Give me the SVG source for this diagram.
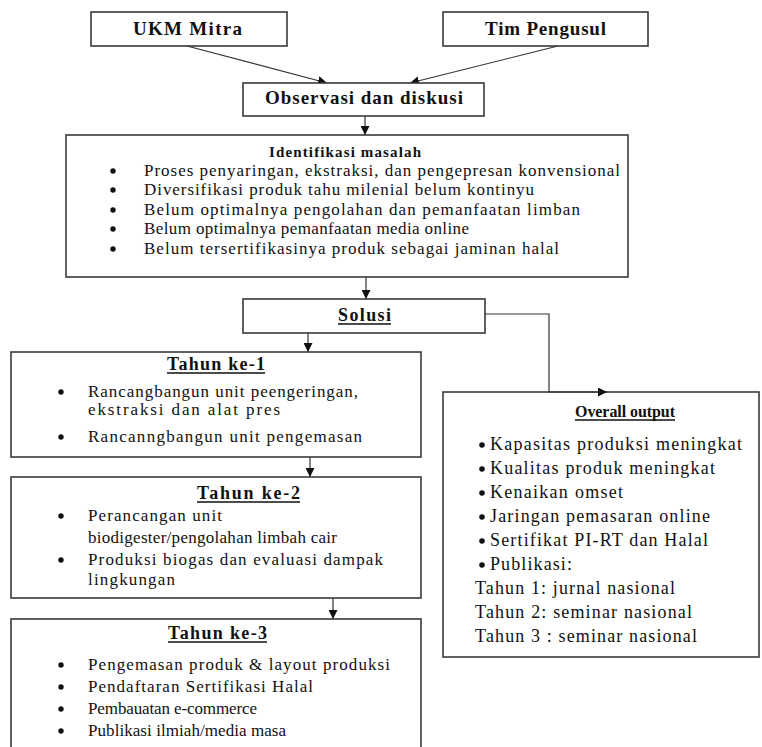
<svg xmlns="http://www.w3.org/2000/svg" width="762" height="747" viewBox="0 0 762 747">
<style>
.box{fill:#fff;stroke:#3a3a3a;stroke-width:1.6}
text{font-family:"Liberation Serif","Times New Roman",serif;fill:#111}
.s17{font-size:17px}
.s18{font-size:18px}
.hb{font-weight:bold}
.ul{stroke:#111;stroke-width:1.3}
.c{fill:none;stroke:#333;stroke-width:1.2}
.dot{fill:#111}
</style>
<defs>
<marker id="ah" viewBox="0 0 10 10" refX="10" refY="5" markerWidth="9" markerHeight="9" orient="auto" markerUnits="userSpaceOnUse"><path d="M0,0 L10,5 L0,10 z" fill="#111"/></marker>
</defs>

<g id="connectors">
<line class="c" x1="187" y1="46" x2="327" y2="83" marker-end="url(#ah)"/>
<line class="c" x1="558" y1="46" x2="410" y2="83" marker-end="url(#ah)"/>
<line class="c" x1="365" y1="116" x2="365" y2="135" marker-end="url(#ah)"/>
<line class="c" x1="366" y1="277" x2="366" y2="299" marker-end="url(#ah)"/>
<line class="c" x1="308" y1="333" x2="308" y2="352" marker-end="url(#ah)"/>
<line class="c" x1="310" y1="457" x2="310" y2="477" marker-end="url(#ah)"/>
<line class="c" x1="333" y1="598" x2="333" y2="619" marker-end="url(#ah)"/>
</g>

<g id="ukm-mitra">
<rect class="box" x="91" y="12" width="196" height="34"/>
<text class="hb" x="133" y="35" style="font-size:19px" textLength="109" lengthAdjust="spacing">UKM Mitra</text>
</g>

<g id="tim-pengusul">
<rect class="box" x="443" y="12" width="205" height="34"/>
<text class="hb" x="485" y="35" style="font-size:19px" textLength="121" lengthAdjust="spacing">Tim Pengusul</text>
</g>

<g id="observasi">
<rect class="box" x="243" y="83" width="241" height="33"/>
<text class="hb" x="265" y="104" style="font-size:19px" textLength="198" lengthAdjust="spacing">Observasi dan diskusi</text>
</g>

<g id="identifikasi">
<rect class="box" x="66" y="135" width="562" height="142"/>
<text class="hb" x="269" y="157" style="font-size:15px" textLength="152" lengthAdjust="spacing">Identifikasi masalah</text>
<circle class="dot" cx="113" cy="171" r="2.7"/>
<circle class="dot" cx="113" cy="190" r="2.7"/>
<circle class="dot" cx="113" cy="210" r="2.7"/>
<circle class="dot" cx="113" cy="229" r="2.7"/>
<circle class="dot" cx="113" cy="249" r="2.7"/>
<text class="s17" x="144" y="176" textLength="476" lengthAdjust="spacing">Proses penyaringan, ekstraksi, dan pengepresan konvensional</text>
<text class="s17" x="144" y="195" textLength="390" lengthAdjust="spacing">Diversifikasi produk tahu milenial belum kontinyu</text>
<text class="s17" x="144" y="215" textLength="436" lengthAdjust="spacing">Belum optimalnya pengolahan dan pemanfaatan limban</text>
<text class="s17" x="144" y="234" textLength="325" lengthAdjust="spacing">Belum optimalnya pemanfaatan media online</text>
<text class="s17" x="144" y="254" textLength="415" lengthAdjust="spacing">Belum tersertifikasinya produk sebagai jaminan halal</text>
</g>

<g id="solusi">
<rect class="box" x="243" y="299" width="242" height="34"/>
<text class="hb s18" x="338" y="321" textLength="53" lengthAdjust="spacing">Solusi</text>
<line class="ul" x1="338" y1="324" x2="391" y2="324"/>
</g>

<g id="tahun-1">
<rect class="box" x="11" y="352" width="410" height="105"/>
<text class="hb s18" x="167" y="370" textLength="98" lengthAdjust="spacing">Tahun ke-1</text>
<line class="ul" x1="167" y1="373" x2="265" y2="373"/>
<circle class="dot" cx="61" cy="392" r="2.7"/>
<circle class="dot" cx="61" cy="437" r="2.7"/>
<text class="s17" x="88" y="397" textLength="270" lengthAdjust="spacing">Rancangbangun unit peengeringan,</text>
<text class="s17" x="88" y="415" textLength="192" lengthAdjust="spacing">ekstraksi dan alat pres</text>
<text class="s17" x="88" y="442" textLength="274" lengthAdjust="spacing">Rancanngbangun unit pengemasan</text>
</g>

<g id="tahun-2">
<rect class="box" x="11" y="477" width="410" height="121"/>
<text class="hb s18" x="197" y="499" textLength="103" lengthAdjust="spacing">Tahun ke-2</text>
<line class="ul" x1="197" y1="502" x2="300" y2="502"/>
<circle class="dot" cx="61" cy="516" r="2.7"/>
<circle class="dot" cx="61" cy="560" r="2.7"/>
<text class="s17" x="88" y="521" textLength="134" lengthAdjust="spacing">Perancangan unit</text>
<text class="s17" x="88" y="543" textLength="249" lengthAdjust="spacing">biodigester/pengolahan limbah cair</text>
<text class="s17" x="88" y="565" textLength="295" lengthAdjust="spacing">Produksi biogas dan evaluasi dampak</text>
<text class="s17" x="88" y="585" textLength="87" lengthAdjust="spacing">lingkungan</text>
</g>

<g id="tahun-3">
<rect class="box" x="11" y="619" width="410" height="140"/>
<text class="hb s18" x="168" y="639" textLength="99" lengthAdjust="spacing">Tahun ke-3</text>
<line class="ul" x1="168" y1="642" x2="267" y2="642"/>
<circle class="dot" cx="61" cy="665" r="2.7"/>
<circle class="dot" cx="61" cy="687" r="2.7"/>
<circle class="dot" cx="61" cy="709" r="2.7"/>
<circle class="dot" cx="61" cy="731" r="2.7"/>
<text class="s17" x="88" y="670" textLength="302" lengthAdjust="spacing">Pengemasan produk &amp; layout produksi</text>
<text class="s17" x="88" y="692" textLength="225" lengthAdjust="spacing">Pendaftaran Sertifikasi Halal</text>
<text class="s17" x="88" y="714" textLength="169" lengthAdjust="spacing">Pembauatan e-commerce</text>
<text class="s17" x="88" y="736" textLength="198" lengthAdjust="spacing">Publikasi ilmiah/media masa</text>
</g>

<g id="overall-output">
<rect class="box" x="443" y="392" width="316" height="265"/>
<text class="hb" x="575" y="417" style="font-size:16px" textLength="100" lengthAdjust="spacing">Overall output</text>
<line class="ul" x1="575" y1="420" x2="675" y2="420"/>
<circle class="dot" cx="482" cy="445" r="2.8"/>
<circle class="dot" cx="482" cy="469" r="2.8"/>
<circle class="dot" cx="482" cy="493" r="2.8"/>
<circle class="dot" cx="482" cy="517" r="2.8"/>
<circle class="dot" cx="482" cy="541" r="2.8"/>
<circle class="dot" cx="482" cy="565" r="2.8"/>
<text class="s18" x="490" y="450" textLength="252" lengthAdjust="spacing">Kapasitas produksi meningkat</text>
<text class="s18" x="490" y="474" textLength="225" lengthAdjust="spacing">Kualitas produk meningkat</text>
<text class="s18" x="490" y="498" textLength="133" lengthAdjust="spacing">Kenaikan omset</text>
<text class="s18" x="490" y="522" textLength="220" lengthAdjust="spacing">Jaringan pemasaran online</text>
<text class="s18" x="490" y="546" textLength="218" lengthAdjust="spacing">Sertifikat PI-RT dan Halal</text>
<text class="s18" x="490" y="570" textLength="82" lengthAdjust="spacing">Publikasi:</text>
<text class="s18" x="475" y="594" textLength="200" lengthAdjust="spacing">Tahun 1: jurnal nasional</text>
<text class="s18" x="475" y="618" textLength="217" lengthAdjust="spacing">Tahun 2: seminar nasional</text>
<text class="s18" x="475" y="642" textLength="222" lengthAdjust="spacing">Tahun 3 : seminar nasional</text>
</g>

<g id="connectors-solusi-output">
<path class="c" d="M485,314 H549 V392 H607" marker-end="url(#ah)"/>
</g>
</svg>
